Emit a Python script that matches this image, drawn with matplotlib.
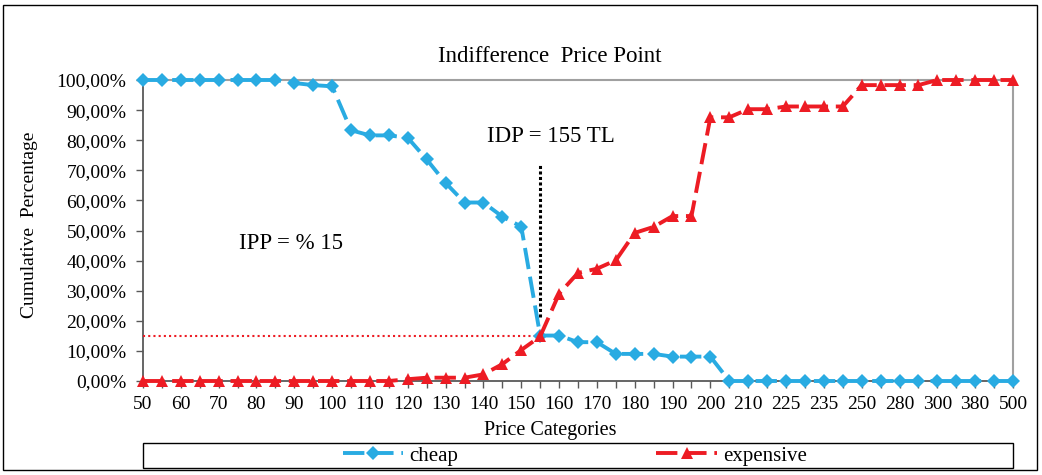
import matplotlib
matplotlib.use("Agg")
import matplotlib.pyplot as plt
from matplotlib.patches import Rectangle
from matplotlib.ticker import FuncFormatter, FixedLocator

categories = [50, 55, 60, 65, 70, 75, 80, 85, 90, 95, 100, 105, 110, 115, 120, 125,
              130, 135, 140, 145, 150, 155, 160, 165, 170, 175, 180, 185, 190, 195,
              200, 205, 210, 220, 225, 230, 235, 240, 250, 275, 280, 290, 300, 350,
              380, 400, 500]
cheap = [100, 100, 100, 100, 100, 100, 100, 100, 99.0, 98.3, 97.9, 83.3, 81.6, 81.6,
         80.8, 73.6, 65.8, 59.3, 59.3, 54.6, 51.3, 15.1, 15.1, 12.9, 12.9, 9.0, 9.0,
         9.0, 8.1, 8.1, 8.1, 0, 0, 0, 0, 0, 0, 0, 0, 0, 0, 0, 0, 0, 0, 0, 0]
expensive = [0, 0, 0, 0, 0, 0, 0, 0, 0, 0, 0, 0, 0, 0, 0.6, 1.1, 1.1, 1.1, 2.2, 5.6,
             10.3, 14.8, 29.0, 35.9, 37.3, 40.1, 49.2, 51.2, 54.8, 54.8, 87.6, 87.6,
             90.3, 90.3, 91.2, 91.2, 91.2, 91.2, 98.3, 98.3, 98.3, 98.3, 100, 100,
             100, 100, 100]
idp_index = categories.index(155)
ipp_value = 15.1

plt.rcParams['font.family'] = ['Liberation Serif', 'DejaVu Serif']

W, H = 1042, 475
fig = plt.figure(figsize=(W / 100, H / 100), dpi=100)
ax = fig.add_axes([143 / W, 1 - 381 / H, (1013 - 143) / W, (381 - 80) / H])

x = list(range(len(categories)))
blue = '#29ABE2'
red = '#ED1C24'
dash = (0, (5.5, 2))
ax.plot(x, cheap, color=blue, lw=2.8, linestyle=dash, marker='D', ms=7,
        markeredgewidth=0, clip_on=False, zorder=4, label='cheap')
ax.plot(x, expensive, color=red, lw=2.8, linestyle=dash, marker='^', ms=9,
        markeredgewidth=0, clip_on=False, zorder=5, label='expensive')

# reference lines
ax.plot([0, idp_index], [ipp_value, ipp_value], color=red, lw=1.5,
        linestyle=(0, (1, 1.5)), zorder=3)
ax.plot([idp_index, idp_index], [21.3, 72.5], color='black', lw=2.2,
        linestyle=(0, (1, 0.8)), zorder=3)

ax.text(18.2, 81.2, 'IDP = 155 TL', fontsize=16.5, va='center', ha='left')
ax.text(5.1, 45.8, 'IPP = % 15', fontsize=16.5, va='center', ha='left')

ax.set_xlim(0, len(categories) - 1)
ax.set_ylim(0, 100)
ax.xaxis.set_major_locator(FixedLocator(x))
ax.set_xticklabels([str(c) if i % 2 == 0 else '' for i, c in enumerate(categories)],
                   fontsize=14)
ax.set_yticks(range(0, 101, 10))
ax.yaxis.set_major_formatter(FuncFormatter(lambda v, p: f"{v:.2f}".replace('.', ',') + '%'))
ax.tick_params(axis='y', labelsize=14, direction='out', length=5, width=1,
               color='#595959', pad=7)
ax.tick_params(axis='x', direction='out', length=5, width=1, color='#595959', pad=6)

for s in ['left', 'bottom']:
    ax.spines[s].set_color('#595959')
    ax.spines[s].set_linewidth(1.3)
for s in ['top', 'right']:
    ax.spines[s].set_color('#a0a0a0')
    ax.spines[s].set_linewidth(1.5)

fig.text(550 / W, 1 - 57 / H, 'Indifference  Price Point', fontsize=16.5,
         ha='center', va='center')
fig.text(30 / W, 1 - 225 / H, 'Cumulative  Percentage', fontsize=14,
         ha='center', va='center', rotation=90)
fig.text(550 / W, 1 - 431 / H, 'Price Categories', fontsize=14.5,
         ha='center', va='center')

# legend box
fig.patches.append(Rectangle((143 / W, 1 - 468 / H), (1013 - 143) / W, 25 / H,
                             transform=fig.transFigure, fill=False,
                             edgecolor='black', lw=1.0))
leg = fig.legend(loc='center', bbox_to_anchor=(575 / W, 1 - 456 / H), ncol=2,
                 frameon=False, fontsize=15, handlelength=2.9, columnspacing=9.5,
                 handletextpad=0.3, borderpad=0)

# outer border
fig.patches.append(Rectangle((3 / W, 1 - 470 / H), (1037 - 3) / W, (470 - 5) / H,
                             transform=fig.transFigure, fill=False,
                             edgecolor='black', lw=1.0))

fig.savefig('out.png', dpi=100)
